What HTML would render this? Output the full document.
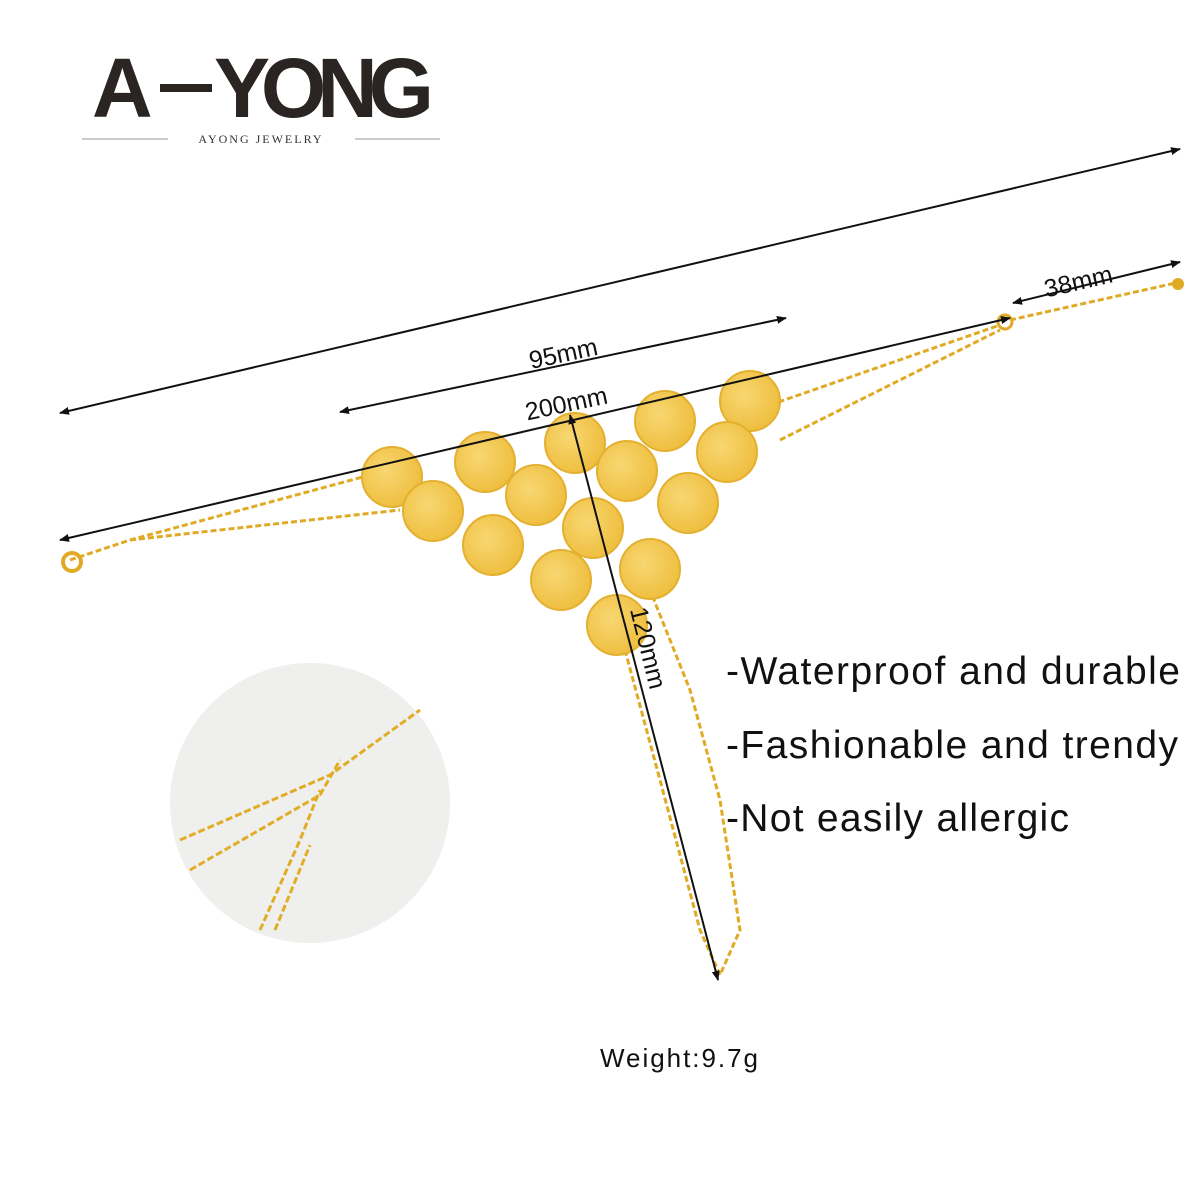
<!DOCTYPE html>
<html><head><meta charset="utf-8"><style>
html,body{margin:0;padding:0;background:#fff;}
svg{display:block;}
</style></head><body>
<svg width="1200" height="1200" viewBox="0 0 1200 1200" xmlns="http://www.w3.org/2000/svg">
<defs>
<marker id="ar" markerWidth="10" markerHeight="8" refX="9" refY="4" orient="auto" markerUnits="userSpaceOnUse">
<path d="M0,0 L10,4 L0,8 Z" fill="#111"/></marker>
<marker id="al" markerWidth="10" markerHeight="8" refX="1" refY="4" orient="auto" markerUnits="userSpaceOnUse">
<path d="M10,0 L0,4 L10,8 Z" fill="#111"/></marker>
<radialGradient id="g" cx="40%" cy="40%" r="70%"><stop offset="0" stop-color="#f8d772"/><stop offset="1" stop-color="#edbb38"/></radialGradient>
</defs>
<!-- logo -->
<text x="92" y="117" font-family="Liberation Sans, sans-serif" font-weight="bold" font-size="84" fill="#2a2422">A</text>
<rect x="160" y="84" width="52" height="8" fill="#2a2422"/>
<text x="214" y="117" font-family="Liberation Sans, sans-serif" font-weight="bold" font-size="84" fill="#2a2422" textLength="220" lengthAdjust="spacing">YONG</text>
<line x1="82" y1="139" x2="168" y2="139" stroke="#999" stroke-width="1"/>
<line x1="355" y1="139" x2="440" y2="139" stroke="#999" stroke-width="1"/>
<text x="261" y="143" text-anchor="middle" font-family="Liberation Serif, serif" font-size="12" letter-spacing="2" fill="#333">AYONG JEWELRY</text>
<!-- inset circle -->
<circle cx="310" cy="803" r="140" fill="#efefed"/>
<g stroke="#e2ad26" stroke-width="3" fill="none" stroke-dasharray="7 3">
<path d="M180,840 L330,775 L420,710"/><path d="M190,870 L320,795 L340,760"/><path d="M260,930 L300,840 L320,790"/><path d="M275,930 L310,845"/>
</g>
<!-- chains -->
<g stroke="#e0aa25" stroke-width="3" fill="none" stroke-dasharray="6 3">
<path d="M70,560 L130,540 L370,475"/><path d="M130,540 L400,510"/>
<path d="M770,405 L1000,325"/><path d="M780,440 L1000,330"/>
<path d="M1010,320 L1180,282"/>
<path d="M625,650 L660,780 L700,930 L720,975 L740,930 L720,800 L690,690 L650,590"/>
</g>
<circle cx="72" cy="562" r="9" fill="none" stroke="#e0aa25" stroke-width="4"/>
<circle cx="1005" cy="322" r="7" fill="none" stroke="#e0aa25" stroke-width="3"/>
<circle cx="1178" cy="284" r="6" fill="#e0aa25"/>
<!-- coins -->
<g fill="url(#g)" stroke="#e3b030" stroke-width="2">
<circle cx="392" cy="477" r="30"/><circle cx="485" cy="462" r="30"/><circle cx="575" cy="443" r="30"/><circle cx="665" cy="421" r="30"/><circle cx="750" cy="401" r="30"/>
<circle cx="433" cy="511" r="30"/><circle cx="536" cy="495" r="30"/><circle cx="627" cy="471" r="30"/><circle cx="727" cy="452" r="30"/>
<circle cx="493" cy="545" r="30"/><circle cx="593" cy="528" r="30"/><circle cx="688" cy="503" r="30"/>
<circle cx="561" cy="580" r="30"/><circle cx="650" cy="569" r="30"/>
<circle cx="617" cy="625" r="30"/>
</g>
<!-- dimension lines -->
<g stroke="#111" stroke-width="2" marker-start="url(#al)" marker-end="url(#ar)">
<line x1="60" y1="413" x2="1180" y2="149"/>
<line x1="340" y1="412" x2="786" y2="318"/>
<line x1="60" y1="540" x2="1010" y2="318"/>
<line x1="1013" y1="303" x2="1180" y2="262"/>
<line x1="570" y1="415" x2="718" y2="980"/>
</g>
<g font-family="Liberation Sans, sans-serif" font-size="25" fill="#111">
<text x="563" y="362" text-anchor="middle" transform="rotate(-12 563 352)">95mm</text>
<text x="566" y="412" text-anchor="middle" transform="rotate(-12 566 402)">200mm</text>
<text x="1078" y="290" text-anchor="middle" transform="rotate(-13 1078 280)">38mm</text>
<text x="640" y="650" text-anchor="middle" transform="rotate(76 640 650)">120mm</text>
</g>
<g font-family="Liberation Sans, sans-serif" font-size="39" fill="#111">
<text x="726" y="684" textLength="454">-Waterproof and durable</text>
<text x="726" y="758" textLength="452">-Fashionable and trendy</text>
<text x="726" y="831" textLength="343">-Not easily allergic</text>
</g>
<text x="600" y="1067" font-family="Liberation Sans, sans-serif" font-size="26" fill="#111" textLength="158">Weight:9.7g</text>
</svg>
</body></html>
